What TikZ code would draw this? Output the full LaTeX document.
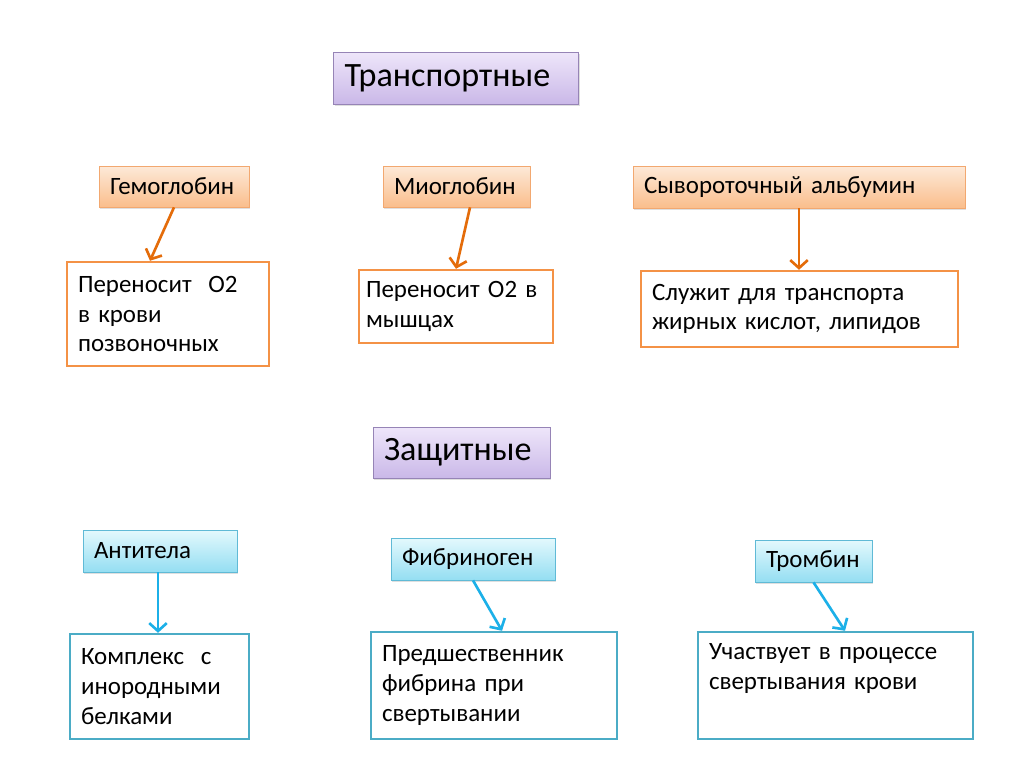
\documentclass[tikz,border=0pt]{standalone}
\usepackage{fontspec}
\setmainfont{Carlito}
\usepackage{tikz}
\usetikzlibrary{shadows,arrows.meta}

\definecolor{LilacTop}{RGB}{238,230,250}
\definecolor{LilacBottom}{RGB}{202,184,232}
\definecolor{LilacLine}{RGB}{150,132,182}
\definecolor{PeachTop}{RGB}{253,233,216}
\definecolor{PeachBottom}{RGB}{250,190,140}
\definecolor{PeachLine}{RGB}{242,168,112}
\definecolor{SkyTop}{RGB}{228,249,253}
\definecolor{SkyBottom}{RGB}{148,222,242}
\definecolor{SkyLine}{RGB}{96,186,214}
\definecolor{OrangeFrame}{RGB}{244,146,70}
\definecolor{AquaFrame}{RGB}{75,172,198}
\definecolor{OrangeArrow}{RGB}{228,108,10}
\definecolor{AquaArrow}{RGB}{28,176,232}

\begin{document}
\begin{tikzpicture}[x=0.02cm, y=-0.02cm]
        \tikzstyle Any Box=[rectangle, inner xsep=0.22cm, inner ysep=0.12cm, align=left, font=\fontsize{14.2}{17}\selectfont]
        \tikzstyle Shaded Box=[Any Box, shading=axis, drop shadow={shadow xshift=0.6pt, shadow yshift=-1pt, opacity=0.25}]
        \tikzstyle Group Box=[Shaded Box, draw=LilacLine, top color=LilacTop, bottom color=LilacBottom, font=\fontsize{19.4}{22}\selectfont]
        \tikzstyle Hot Box=[Shaded Box, draw=PeachLine, top color=PeachTop, bottom color=PeachBottom]
        \tikzstyle Cool Box=[Shaded Box, draw=SkyLine, top color=SkyTop, bottom color=SkyBottom]
        \tikzstyle Hot Note=[Any Box, draw=OrangeFrame, line width=1.4pt, fill=white]
        \tikzstyle Cool Note=[Any Box, draw=AquaFrame, line width=1.4pt, fill=white]
        \tikzstyle Hot Arrow=[draw=OrangeArrow, line width=1.5pt, -{Straight Barb[length=4.5pt, width=10pt]}]
        \tikzstyle Cool Arrow=[Hot Arrow, draw=AquaArrow]

        \useasboundingbox[fill=white] (0, 0) rectangle (1024, 767);

        % transport proteins
        \node[Group Box, text width=4.46cm, minimum height=1.04cm] (trans) at (456, 78) {Транспортные};

        \node[Hot Box, text width=2.56cm, minimum height=0.82cm] (gemo) at (174, 186.5) {Гемоглобин};
        \node[Hot Box, text width=2.50cm, minimum height=0.82cm] (mio) at (456.5, 186.5) {Миоглобин};
        \node[Hot Box, text width=6.20cm, minimum height=0.84cm] (alb) at (799, 187) {Сывороточный альбумин};

        \node[Hot Note, text width=3.60cm, minimum height=2.08cm] (gemoNote) at (168, 314) {Переносит\ \ O2\\в крови\\позвоночных};
        \node[Hot Note, text width=3.60cm, inner xsep=0.14cm, minimum height=1.46cm] (mioNote) at (456, 306.5) {Переносит O2 в\\мышцах};
        \node[Hot Note, text width=5.90cm, minimum height=1.52cm] (albNote) at (799.5, 309) {Служит для транспорта\\жирных кислот, липидов};

        \draw[Hot Arrow] (gemo.south) -- ([xshift=-0.36cm]gemoNote.north);
        \draw[Hot Arrow] ([xshift=0.27cm]mio.south) -- (mioNote.north);
        \draw[Hot Arrow] (alb.south) -- (alb.south |- albNote.north);

        % protective proteins
        \node[Group Box, text width=3.10cm, minimum height=1.02cm] (zasch) at (461.5, 452.5) {Защитные};

        \node[Cool Box, text width=2.64cm, minimum height=0.84cm] (anti) at (160, 551) {Антитела};
        \node[Cool Box, text width=2.84cm, minimum height=0.84cm] (fibr) at (473, 559) {Фибриноген};
        \node[Cool Box, text width=1.90cm, minimum height=0.84cm] (trom) at (813.5, 561) {Тромбин};

        \node[Cool Note, text width=3.14cm, minimum height=2.10cm] (antiNote) at (159.5, 686.5) {Комплекс\ \ с\\инородными\\белками};
        \node[Cool Note, text width=4.48cm, minimum height=2.14cm] (fibrNote) at (494, 685.5) {Предшественник\\фибрина при\\свертывании};
        \node[Cool Note, text width=5.06cm, minimum height=2.14cm] (tromNote) at (835.5, 685.5) {Участвует в процессе\\свертывания крови\\ \strut};

        \draw[Cool Arrow] ([xshift=-0.04cm]anti.south) -- ([xshift=-0.04cm]anti.south |- antiNote.north);
        \draw[Cool Arrow] (fibr.south) -- ([xshift=0.16cm]fibrNote.north);
        \draw[Cool Arrow] (trom.south) -- ([xshift=0.19cm]tromNote.north);
    \end{tikzpicture}
\end{document}
